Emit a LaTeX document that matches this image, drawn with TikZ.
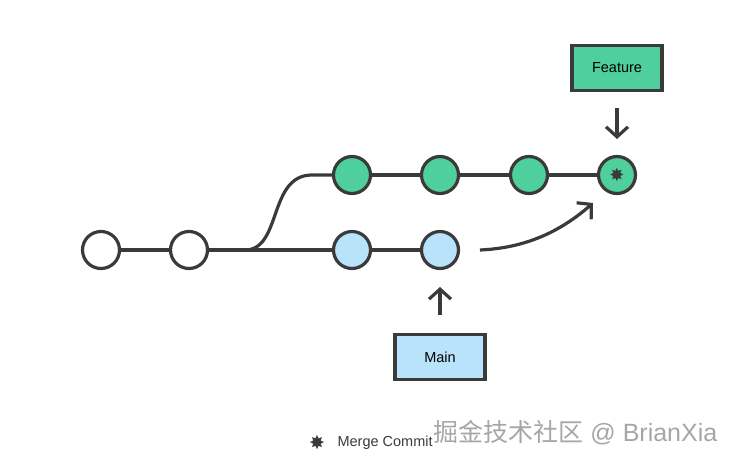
\documentclass[tikz,border=0pt]{standalone}
\usepackage{fontspec}
\setmainfont{Liberation Sans}
\newfontfamily\cjk{Noto Sans CJK SC}
\newfontfamily\symb{DejaVu Sans}
\usetikzlibrary{arrows.meta}
\definecolor{ink}{HTML}{3A3A3A}
\definecolor{featgreen}{HTML}{4ECF9B}
\definecolor{mainblue}{HTML}{B9E2FB}
\tikzset{
  commit/.style={circle, draw=ink, line width=3.2pt, minimum size=37pt, inner sep=0pt},
  branchbox/.style={draw=ink, line width=3.2pt, minimum width=90pt, minimum height=45pt, font=\fontsize{14.5}{16}\selectfont},
  edge/.style={draw=ink, line width=3.2pt},
  pointer/.style={edge, -{Straight Barb[length=10pt,width=22pt]}}
}
\begin{document}
\begin{tikzpicture}[x=1pt,y=-1pt]
            \useasboundingbox (0,0) rectangle (733,463);
            % base commits
            \node[commit, fill=white] (c1) at (101,250) {};
            \node[commit, fill=white] (c2) at (189,250) {};
            % main commits
            \node[commit, fill=mainblue] (m1) at (352,250) {};
            \node[commit, fill=mainblue] (m2) at (440,250) {};
            % feature commits
            \node[commit, fill=featgreen] (f1) at (352,175) {};
            \node[commit, fill=featgreen] (f2) at (440,175) {};
            \node[commit, fill=featgreen] (f3) at (529,175) {};
            \node[commit, fill=featgreen] (f4) at (617,175) {\symb\fontsize{18}{18}\selectfont\textcolor{ink}{✸}};
            \coordinate (fork) at (245,250);
            \coordinate (bend) at (312,175);
            \draw[edge] (c1) -- (c2);
            \draw[edge] (c2) -- (m1);
            \draw[edge] (m1) -- (m2);
            \draw[edge] (fork) .. controls (282,250) and (268,175) .. (bend) -- (f1);
            \draw[edge] (f1) -- (f2);
            \draw[edge] (f2) -- (f3);
            \draw[edge] (f3) -- (f4);
            % merge arrow
            \coordinate (mstart) at (480,250);
            \coordinate (mend) at (593,203);
            \draw[pointer] (mstart) .. controls (525,248) and (560,232) .. (mend);
            % branch labels
            \node[branchbox, fill=featgreen] (feature) at (617,68) {Feature};
            \node[branchbox, fill=mainblue] (main) at (440,357) {Main};
            \coordinate (fhead) at (617,108);
            \coordinate (fhit) at (617,139);
            \draw[pointer] (fhead) -- (fhit);
            \coordinate (mhead) at (440,315);
            \coordinate (mhit) at (440,287);
            \draw[pointer] (mhead) -- (mhit);
            % legend
            \node[text=ink, font=\symb\fontsize{19}{19}\selectfont] (star) at (317,443) {✸};
            \node[anchor=west, text=ink, font=\fontsize{14.5}{16}\selectfont] (legend) at (334,443) {Merge Commit};
            \node[anchor=west, text=black!35, font=\fontsize{25}{28}\selectfont] (mark) at (430,433) {{\cjk 掘金技术社区} @ BrianXia};
\end{tikzpicture}
\end{document}
